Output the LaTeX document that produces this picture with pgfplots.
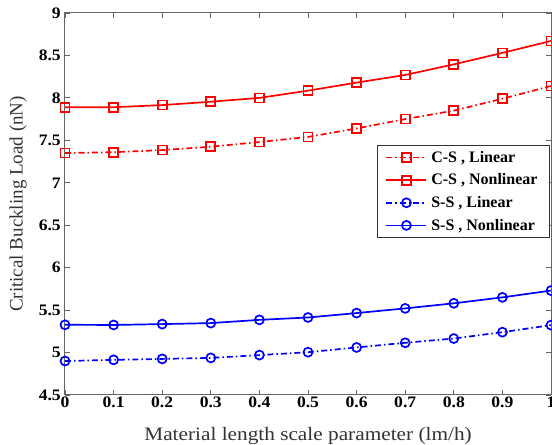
\documentclass[border=0pt]{standalone}
\usepackage{pgfplots}
\pgfplotsset{compat=1.18}
\usepackage{fontspec}
\setmainfont{Liberation Serif}
\newfontfamily\xlabfont{Liberation Serif}[FakeStretch=1.12]
\newfontfamily\tickfont{Liberation Serif}[FakeStretch=1.1]
\begin{document}
\begin{tikzpicture}
\begin{axis}[
  name=ax,
  scale only axis,
  width=486pt, height=382pt,
  xmin=0, xmax=1, ymin=4.5, ymax=9,
  xtick={0,0.1,...,1.0},
  ytick={4.5,5,...,9},
  xticklabels={0,0.1,0.2,0.3,0.4,0.5,0.6,0.7,0.8,0.9,1},
  /pgf/number format/assume math mode=true,
  ticklabel style={font=\tickfont\fontsize{16}{18}\selectfont\bfseries},
  xticklabel style={inner sep=2pt},
  yticklabel style={inner xsep=4pt, inner ysep=2.5pt},
  tick align=inside,
  major tick length=5pt,
  axis line style={black!60, line width=1pt},
  tick style={black!60, line width=0.8pt},
  xlabel={\xlabfont Material length scale parameter (lm/h)},
  ylabel={Critical Buckling Load (nN)},
  label style={font=\fontsize{19}{21}\selectfont, black!80},
  xlabel style={at={(axis description cs:0.5,-0.119)}, anchor=base},
  ylabel style={at={(axis description cs:-0.0967,0.5)}, anchor=center},
  legend style={at={(axis description cs:0.998,0.655)}, anchor=north east, font=\fontsize{16}{18}\selectfont\bfseries,
    draw=black!80, line width=1pt, inner xsep=8pt, inner ysep=5pt, row sep=8pt,
    nodes={inner ysep=1pt, inner xsep=4pt}},
  legend cell align=left,
  legend image code/.code={\draw[#1] (0pt,0pt) -- (40pt,0pt); \draw[#1, mark repeat=1] plot coordinates {(20pt,0pt)};},
  every axis plot/.append style={line width=1.7pt},
]
\addplot[red, dash pattern=on 6pt off 3pt on 1.5pt off 3pt, mark=square, mark size=4.5pt, mark options={solid}]
coordinates {(0,7.35) (0.1,7.36) (0.2,7.385) (0.3,7.425) (0.4,7.48) (0.5,7.54) (0.6,7.64) (0.7,7.75) (0.8,7.85) (0.9,7.99) (1.0,8.14)};
\addlegendentry{C-S , Linear}
\addplot[red, mark=square, mark size=4.5pt]
coordinates {(0,7.89) (0.1,7.89) (0.2,7.915) (0.3,7.955) (0.4,8.00) (0.5,8.085) (0.6,8.18) (0.7,8.27) (0.8,8.395) (0.9,8.53) (1.0,8.67)};
\addlegendentry{C-S , Nonlinear}
\addplot[blue, dash pattern=on 6pt off 3pt on 1.5pt off 3pt, mark=o, mark size=4.5pt, mark options={solid}]
coordinates {(0,4.90) (0.1,4.914) (0.2,4.925) (0.3,4.937) (0.4,4.97) (0.5,5.004) (0.6,5.06) (0.7,5.115) (0.8,5.165) (0.9,5.24) (1.0,5.323)};
\addlegendentry{S-S , Linear}
\addplot[blue, mark=o, mark size=4.5pt]
coordinates {(0,5.327) (0.1,5.325) (0.2,5.335) (0.3,5.347) (0.4,5.385) (0.5,5.413) (0.6,5.465) (0.7,5.52) (0.8,5.58) (0.9,5.65) (1.0,5.73)};
\addlegendentry{S-S , Nonlinear}
\end{axis}
\pgfresetboundingbox
\path[use as bounding box] ([shift={(-65pt,-50pt)}]ax.south west) rectangle ([shift={(1pt,13pt)}]ax.north east);
\end{tikzpicture}
\end{document}
